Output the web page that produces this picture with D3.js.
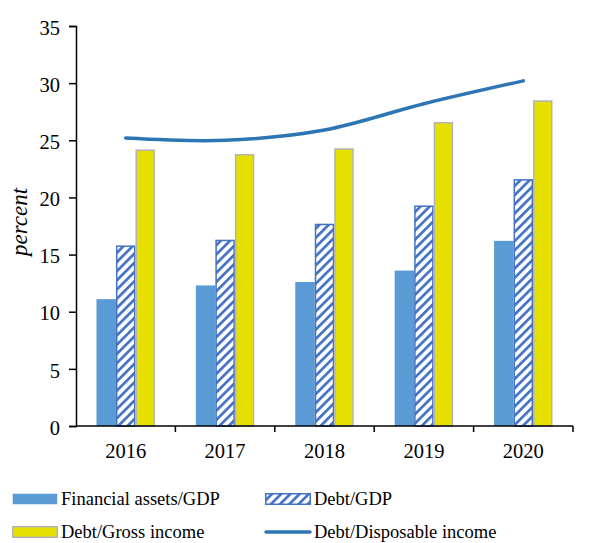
<!DOCTYPE html>
<html>
<head>
<meta charset="utf-8">
<script src="https://cdn.jsdelivr.net/npm/d3@7"></script>
<style>
  body { margin: 0; background: #fff; }
  text { font-family: "Liberation Serif", "Times New Roman", serif; fill: #000; }
</style>
</head>
<body>
<script>
var years = ["2016", "2017", "2018", "2019", "2020"];
var assetsGdp = [11.1, 12.3, 12.6, 13.6, 16.2];
var debtGdp = [15.8, 16.3, 17.7, 19.3, 21.6];
var debtGross = [24.2, 23.8, 24.3, 26.6, 28.5];
var debtDisposable = [25.2, 25.0, 25.9, 28.2, 30.2];
var yTicks = [0, 5, 10, 15, 20, 25, 30, 35];

var width = 608, height = 543;
var margin = { left: 76, right: 35, top: 26, bottom: 117 };

var svg = d3.select("body").append("svg")
  .attr("width", width)
  .attr("height", height);

// hatch for Debt/GDP
var defs = svg.append("defs");
defs.append("pattern")
  .attr("id", "hatch")
  .attr("patternUnits", "userSpaceOnUse")
  .attr("width", 6.5)
  .attr("height", 6.5)
  .attr("patternTransform", "rotate(45)")
  .call(function (p) {
    p.append("rect").attr("width", 6.5).attr("height", 6.5).attr("fill", "#fff");
    p.append("line").attr("x1", 1.3).attr("y1", 0).attr("x2", 1.3).attr("y2", 6.5)
      .attr("stroke", "#4472c4").attr("stroke-width", 2.8);
  });

var x = d3.scaleBand()
  .domain(years)
  .range([margin.left, width - margin.right]);

var y = d3.scaleLinear()
  .domain([0, 35])
  .range([height - margin.bottom, margin.top]);

var barW = x.bandwidth() * 0.196;
var series = [
  { values: assetsGdp, fill: "#5b9bd5", stroke: "none", sw: 0 },
  { values: debtGdp, fill: "url(#hatch)", stroke: "#4472c4", sw: 1.5 },
  { values: debtGross, fill: "#e6e000", stroke: "#b3b3b3", sw: 1.5 }
];

series.forEach(function (s, i) {
  svg.append("g")
    .selectAll("rect")
    .data(s.values)
    .enter()
    .append("rect")
    .attr("x", function (d, j) {
      return x(years[j]) + x.bandwidth() / 2 + (i - 1.5) * barW + s.sw / 2;
    })
    .attr("y", function (d) { return y(d) + s.sw / 2; })
    .attr("width", barW - s.sw)
    .attr("height", function (d) { return y(0) - y(d) - s.sw / 2; })
    .attr("fill", s.fill)
    .attr("stroke", s.stroke)
    .attr("stroke-width", s.sw);
});

// smoothed line
var line = d3.line()
  .x(function (d, j) { return x(years[j]) + x.bandwidth() / 2; })
  .y(function (d) { return y(d); })
  .curve(d3.curveCatmullRom.alpha(0.5));

svg.append("path")
  .datum(debtDisposable)
  .attr("d", line)
  .attr("fill", "none")
  .attr("stroke", "#2e75b6")
  .attr("stroke-width", 3.5)
  .attr("stroke-linecap", "round");

// y axis
var yAxis = svg.append("g")
  .attr("transform", "translate(" + margin.left + ",0)")
  .call(d3.axisLeft(y).tickValues(yTicks).tickSize(7).tickPadding(9));
yAxis.select(".domain").attr("stroke", "#000").attr("stroke-width", 1.5);
yAxis.selectAll(".tick line").attr("stroke", "#000").attr("stroke-width", 1.5);
yAxis.selectAll("text").style("font-size", "20.5px")
  .attr("dy", "0.4em");

// x axis with ticks between categories
var xg = svg.append("g")
  .attr("transform", "translate(0," + y(0) + ")");
xg.append("line")
  .attr("x1", margin.left).attr("x2", width - margin.right)
  .attr("stroke", "#000").attr("stroke-width", 1.5);
var bounds = years.map(function (d) { return x(d); }).concat([x.range()[1]]);
xg.selectAll(".xt")
  .data(bounds.slice(1))
  .enter()
  .append("line")
  .attr("x1", function (d) { return d; })
  .attr("x2", function (d) { return d; })
  .attr("y1", 0).attr("y2", 6)
  .attr("stroke", "#000").attr("stroke-width", 1.5);
xg.selectAll(".xl")
  .data(years)
  .enter()
  .append("text")
  .attr("x", function (d) { return x(d) + x.bandwidth() / 2; })
  .attr("y", 32)
  .attr("text-anchor", "middle")
  .style("font-size", "20.5px")
  .text(function (d) { return d; });

svg.append("text")
  .attr("transform", "translate(27,222) rotate(-90)")
  .attr("text-anchor", "middle")
  .style("font-size", "23px")
  .style("font-style", "italic")
  .text("percent");

// legend
var legend = [
  { label: "Financial assets/GDP", fill: "#5b9bd5", stroke: "none", x: 12, y: 499 },
  { label: "Debt/GDP", fill: "url(#hatch)", stroke: "#4472c4", x: 265, y: 499 },
  { label: "Debt/Gross income", fill: "#e6e000", stroke: "#b3b3b3", x: 12, y: 532 },
  { label: "Debt/Disposable income", line: true, x: 265, y: 532 }
];
var lg = svg.append("g").selectAll("g")
  .data(legend)
  .enter()
  .append("g")
  .attr("transform", function (d) { return "translate(" + d.x + "," + d.y + ")"; });
lg.each(function (d) {
  var g = d3.select(this);
  if (d.line) {
    g.append("line").attr("x1", 1).attr("x2", 45).attr("y1", 0).attr("y2", 0)
      .attr("stroke", "#2e75b6").attr("stroke-width", 3.5).attr("stroke-linecap", "round");
  } else {
    g.append("rect").attr("x", 0.75).attr("y", -5.25).attr("width", 44.5).attr("height", 10.5)
      .attr("fill", d.fill).attr("stroke", d.stroke).attr("stroke-width", d.stroke === "none" ? 0 : 1.5);
  }
  g.append("text")
    .attr("x", 49)
    .attr("y", 6)
    .style("font-size", "18.5px")
    .text(d.label);
});
</script>
</body>
</html>
